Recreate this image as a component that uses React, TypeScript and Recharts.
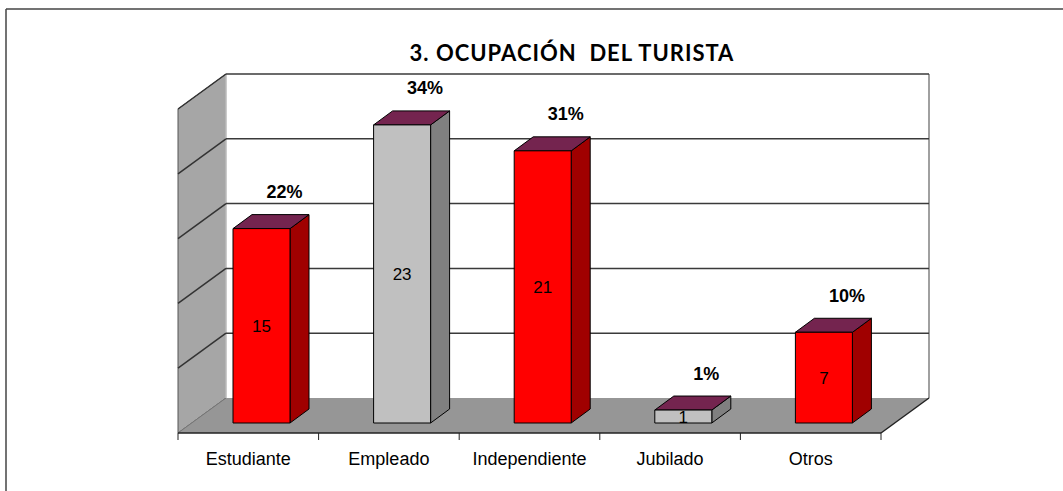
import React from 'react';
import { BarChart, Bar, XAxis, YAxis, CartesianGrid } from 'recharts';

// data
const categories = ['Estudiante', 'Empleado', 'Independiente', 'Jubilado', 'Otros'];
const counts = [15, 23, 21, 1, 7];
const percents = [22, 34, 31, 1, 10];
const yTicks = [0, 5, 10, 15, 20, 25];

const data = categories.map((name, i) => ({ name, value: counts[i], pct: percents[i] }));

// layout
const W = 1063;
const H = 491;
const PLOT = { left: 226, top: 74, right: 929, bottom: 398 };
const AXIS_H = 30;
const WALL = { x: -48, y: 35 }; // back wall -> front edge of floor
const SHIFT = { x: -35, y: 25 }; // back wall -> front face of bars
const DEPTH = { x: 19, y: -14 }; // bar depth
const Y_MAX = 25;

const RED = { front: '#ff0000', side: '#a00000' };
const GRAY = { front: '#c0c0c0', side: '#808080' };
const TOP = '#74244f';
const faces = [RED, GRAY, RED, GRAY, RED];
const FONT = "'Liberation Sans', Arial, sans-serif";

const yAt = (v: number) => PLOT.bottom - (v / Y_MAX) * (PLOT.bottom - PLOT.top);

const Bar3D = (props: any) => {
  const { x, y, width, height, index } = props;
  const fx = x + SHIFT.x;
  const fy = y + SHIFT.y;
  const c = faces[index % faces.length];
  const cx = fx + width / 2;
  return (
    <g stroke="#000" strokeWidth={1} strokeLinejoin="round">
      <polygon
        points={`${fx + width},${fy} ${fx + width + DEPTH.x},${fy + DEPTH.y} ${fx + width + DEPTH.x},${fy + height + DEPTH.y} ${fx + width},${fy + height}`}
        fill={c.side}
      />
      <polygon
        points={`${fx},${fy} ${fx + DEPTH.x},${fy + DEPTH.y} ${fx + width + DEPTH.x},${fy + DEPTH.y} ${fx + width},${fy}`}
        fill={TOP}
      />
      <rect x={fx} y={fy} width={width} height={height} fill={c.front} />
      <text
        x={cx}
        y={fy + height / 2}
        dy="0.36em"
        textAnchor="middle"
        fontFamily={FONT}
        fontSize={17}
        fill="#000"
        stroke="none"
      >
        {counts[index]}
      </text>
      <text
        x={cx + 23}
        y={fy - 37}
        dy="0.36em"
        textAnchor="middle"
        fontFamily={FONT}
        fontSize={18}
        fontWeight="bold"
        fill="#000"
        stroke="none"
      >
        {percents[index]}%
      </text>
    </g>
  );
};

const CategoryTick = (props: any) => {
  const { x, payload } = props;
  return (
    <text
      x={x + WALL.x}
      y={PLOT.bottom + 67}
      textAnchor="middle"
      fontFamily={FONT}
      fontSize={18}
      fill="#000"
    >
      {payload.value}
    </text>
  );
};

const Backdrop = () => {
  const band = (PLOT.right - PLOT.left) / categories.length;
  const frontY = PLOT.bottom + WALL.y;
  const leftX = PLOT.left + WALL.x;
  return (
    <svg width={W} height={H} style={{ position: 'absolute', left: 0, top: 0 }}>
      <rect x={0} y={0} width={W} height={H} fill="#fff" />
      <line x1={6} y1={9} x2={W} y2={9} stroke="#444" strokeWidth={1.5} />
      <line x1={6} y1={9} x2={6} y2={H} stroke="#444" strokeWidth={1.5} />
      <text
        x={572}
        y={61}
        textAnchor="middle"
        fontFamily="Lato, 'Open Sans', sans-serif"
        fontWeight="bold"
        fontSize={22}
        letterSpacing={1}
        fill="#000"
        style={{ whiteSpace: 'pre' }}
      >
        {'3. OCUPACIÓN  DEL TURISTA'}
      </text>
      {/* left wall */}
      <polygon
        points={`${leftX},${PLOT.top + WALL.y} ${PLOT.left},${PLOT.top} ${PLOT.left},${PLOT.bottom} ${leftX},${frontY}`}
        fill="#a6a6a6"
        stroke="#555"
        strokeWidth={1}
      />
      {/* floor */}
      <polygon
        points={`${PLOT.left},${PLOT.bottom} ${PLOT.right},${PLOT.bottom} ${PLOT.right + WALL.x},${frontY} ${leftX},${frontY}`}
        fill="#969696"
      />
      <line x1={PLOT.left} y1={PLOT.bottom} x2={leftX} y2={frontY} stroke="#777" strokeWidth={1} />
      <line x1={PLOT.right} y1={PLOT.top} x2={PLOT.right} y2={PLOT.bottom} stroke="#a0a0a0" strokeWidth={2} />
      <line x1={PLOT.left} y1={PLOT.top} x2={PLOT.left} y2={PLOT.bottom} stroke="#eee" strokeWidth={1} />
      {yTicks.slice(1).map((v) => (
        <line
          key={v}
          x1={PLOT.left}
          y1={yAt(v)}
          x2={leftX}
          y2={yAt(v) + WALL.y}
          stroke="#333"
          strokeWidth={1.5}
        />
      ))}
      <line x1={leftX} y1={frontY} x2={PLOT.right + WALL.x} y2={frontY} stroke="#222" strokeWidth={1.5} />
      <line x1={PLOT.right + WALL.x} y1={frontY} x2={PLOT.right} y2={PLOT.bottom} stroke="#222" strokeWidth={1.5} />
      {categories.concat(['']).map((_, i) => (
        <line
          key={i}
          x1={leftX + i * band}
          y1={frontY}
          x2={leftX + i * band}
          y2={frontY + 7}
          stroke="#222"
          strokeWidth={1}
        />
      ))}
    </svg>
  );
};

const App = () => {
  return (
    <div style={{ position: 'absolute', left: 0, top: 0, width: W, height: H }}>
      <Backdrop />
      <div style={{ position: 'absolute', left: 0, top: 0 }}>
        <BarChart
          width={W}
          height={H}
          data={data}
          margin={{ top: PLOT.top, left: PLOT.left, right: W - PLOT.right, bottom: H - PLOT.bottom - AXIS_H }}
        >
          <CartesianGrid
            vertical={false}
            horizontalValues={yTicks.slice(1)}
            stroke="#3a3a3a"
            strokeWidth={1.5}
          />
          <XAxis
            dataKey="name"
            height={AXIS_H}
            axisLine={false}
            tickLine={false}
            tick={<CategoryTick />}
            interval={0}
          />
          <YAxis hide domain={[0, Y_MAX]} ticks={yTicks} />
          <Bar dataKey="value" barSize={57} shape={<Bar3D />} isAnimationActive={false} />
        </BarChart>
      </div>
    </div>
  );
};

export default App;
